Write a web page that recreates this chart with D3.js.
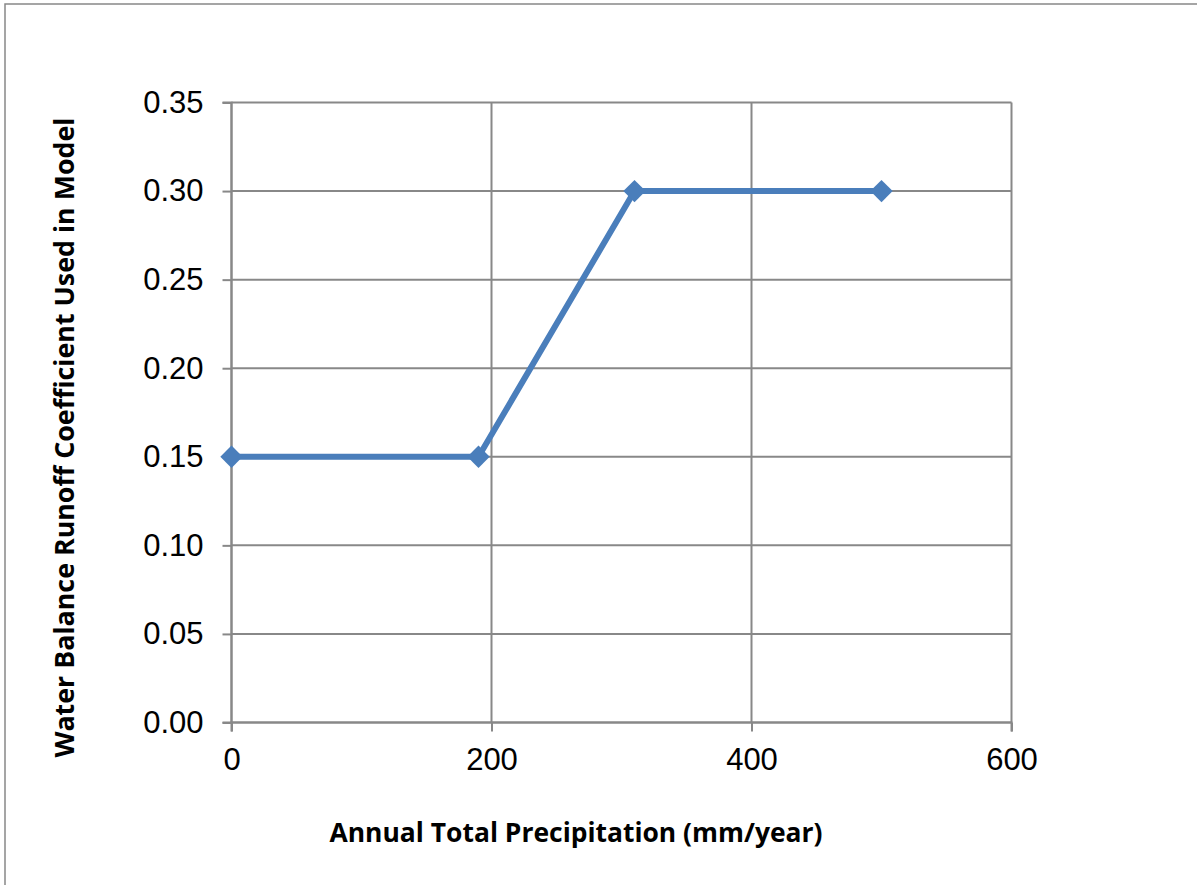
<!DOCTYPE html>
<html>
<head>
<meta charset="utf-8">
<script src="https://cdn.jsdelivr.net/npm/d3@7"></script>
<style>
  html, body { margin: 0; padding: 0; background: #fff; }
  svg { display: block; }
</style>
</head>
<body>
<svg id="chart" width="1197" height="885"></svg>
<script>
// Runoff coefficient applied by the water balance model vs. annual precipitation
const precipitation = [0, 190, 310, 500];          // mm/year
const runoffCoefficient = [0.15, 0.15, 0.30, 0.30];
const xTicks = [0, 200, 400, 600];
const yTicks = [0, 0.05, 0.10, 0.15, 0.20, 0.25, 0.30, 0.35];
const xTitle = "Annual Total Precipitation (mm/year)";
const yTitle = "Water Balance Runoff Coefficient Used in Model";

const W = 1197, H = 885;
const plot = { left: 231.5, right: 1011.5, top: 102.5, bottom: 722.5 };
const gridColor = "#888888";
const lineColor = "#4a7ebb";

const svg = d3.select("#chart");

// Chart area frame
svg.append("rect")
  .attr("x", 5).attr("y", 4)
  .attr("width", W + 20).attr("height", H + 20)
  .attr("fill", "#fff")
  .attr("stroke", gridColor).attr("stroke-width", 1.5);

const x = d3.scaleLinear().domain([0, 600]).range([plot.left, plot.right]);
const y = d3.scaleLinear().domain([0, 0.35]).range([plot.bottom, plot.top]);

// Horizontal gridlines
svg.append("g")
  .selectAll("line")
  .data(yTicks)
  .join("line")
  .attr("x1", plot.left).attr("x2", plot.right)
  .attr("y1", d => y(d)).attr("y2", d => y(d))
  .attr("stroke", gridColor).attr("stroke-width", 2);

// Vertical gridlines
svg.append("g")
  .selectAll("line")
  .data(xTicks)
  .join("line")
  .attr("x1", d => x(d)).attr("x2", d => x(d))
  .attr("y1", plot.top).attr("y2", plot.bottom)
  .attr("stroke", gridColor).attr("stroke-width", 2);

// Axes
const yAxis = d3.axisLeft(y).tickValues(yTicks).tickSize(9).tickPadding(19)
  .tickFormat(d3.format(".2f"));
const xAxis = d3.axisBottom(x).tickValues(xTicks).tickSize(9).tickPadding(11)
  .tickFormat(d3.format("d"));

function styleAxis(g) {
  g.select(".domain").attr("stroke", gridColor).attr("stroke-width", 2);
  g.selectAll(".tick line").attr("stroke", gridColor).attr("stroke-width", 2);
  g.selectAll(".tick text")
    .attr("fill", "#000")
    .style("font-family", "'Liberation Sans', Arial, sans-serif")
    .style("font-size", "31px");
}

svg.append("g")
  .attr("transform", `translate(${plot.left},0)`)
  .call(yAxis)
  .call(styleAxis)
  .call(g => g.select(".domain").attr("d", `M-9,${plot.top}H0V${plot.bottom}H-9`));

svg.append("g")
  .attr("transform", `translate(0,${plot.bottom})`)
  .call(xAxis)
  .call(styleAxis)
  .call(g => g.select(".domain").attr("d", `M${plot.left},9V0H${plot.right}V9`))
  .call(g => g.selectAll(".tick text").attr("dy", "0.88em"));

// Series line
const data = precipitation.map((p, i) => ({ p, c: runoffCoefficient[i] }));
svg.append("path")
  .datum(data)
  .attr("fill", "none")
  .attr("stroke", lineColor)
  .attr("stroke-width", 6)
  .attr("stroke-linejoin", "round")
  .attr("d", d3.line().x(d => x(d.p)).y(d => y(d.c)));

// Diamond markers
const diamond = d3.symbol().type(d3.symbolSquare).size(250);
svg.append("g")
  .selectAll("path")
  .data(data)
  .join("path")
  .attr("d", diamond)
  .attr("transform", d => `translate(${x(d.p)},${y(d.c)}) rotate(45)`)
  .attr("fill", lineColor);

// Axis titles
svg.append("text")
  .attr("x", 576).attr("y", 842)
  .attr("text-anchor", "middle")
  .attr("textLength", 493).attr("lengthAdjust", "spacingAndGlyphs")
  .style("font-family", "'Open Sans', Lato, sans-serif")
  .style("font-weight", "bold")
  .style("font-size", "26px")
  .attr("fill", "#000")
  .text(xTitle);

svg.append("text")
  .attr("transform", "translate(74,437.5) rotate(-90)")
  .attr("text-anchor", "middle")
  .attr("textLength", 640).attr("lengthAdjust", "spacingAndGlyphs")
  .style("font-family", "'Open Sans', Lato, sans-serif")
  .style("font-weight", "bold")
  .style("font-size", "26px")
  .attr("fill", "#000")
  .text(yTitle);
</script>
</body>
</html>
